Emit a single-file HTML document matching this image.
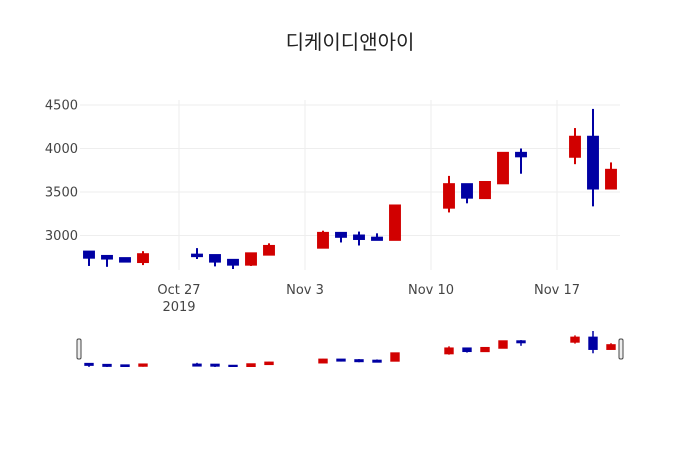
<!DOCTYPE html>
<html><head><meta charset="utf-8">
<style>
html,body{margin:0;padding:0;background:#fff;}
svg text{font-family:"DejaVu Sans","Noto Sans CJK KR",sans-serif;fill:#444;}
</style></head>
<body>
<svg id="chart" width="700" height="450" xmlns="http://www.w3.org/2000/svg">
<text x="350" y="49" text-anchor="middle" font-size="20" style="fill:#222;font-family:'Noto Sans CJK KR',sans-serif">디케이디앤아이</text>
<g id="grid"></g>
<g id="candles"></g>
<g id="xticks"></g>
<g id="yticks"></g>
<g id="slider"></g>
</svg>
<script>
const dates = ["2019-10-22","2019-10-23","2019-10-24","2019-10-25","2019-10-28","2019-10-29","2019-10-30","2019-10-31","2019-11-01","2019-11-04","2019-11-05","2019-11-06","2019-11-07","2019-11-08","2019-11-11","2019-11-12","2019-11-13","2019-11-14","2019-11-15","2019-11-18","2019-11-19","2019-11-20"];
const opens  = [2815,2765,2740,2695,2780,2775,2720,2665,2780,2860,3030,3000,2975,2950,3320,3590,3430,3600,3950,3905,4135,3540];
const highs  = [2815,2765,2745,2820,2855,2780,2730,2800,2910,3055,3035,3045,3025,3345,3685,3590,3625,3950,4000,4235,4455,3840];
const lows   = [2650,2640,2695,2660,2730,2645,2615,2650,2780,2860,2920,2885,2945,2950,3265,3370,3425,3600,3710,3820,3335,3540];
const closes = [2745,2735,2700,2785,2770,2700,2665,2795,2880,3030,2985,2960,2950,3345,3590,3435,3615,3950,3910,4135,3540,3755];
const yTicks = [3000,3500,4000,4500];
const xTickDates = ["2019-10-27","2019-11-03","2019-11-10","2019-11-17"];
const xTickLabels = ["Oct 27","Nov 3","Nov 10","Nov 17"];

const NS="http://www.w3.org/2000/svg";
const x0=Date.parse("2019-10-21T12:00:00Z"), x1=Date.parse("2019-11-20T12:00:00Z");
const L=80,R=620;
function xs(d){return L+(Date.parse(d+"T00:00:00Z")-x0)/(x1-x0)*(R-L);}
function ys(v){return 105+(4500-v)*130.5/1500;}
function ysS(v){return 331+(4455-v)*(367.6-331)/(4455-2615);}
function mk(tag,attrs,parent){const e=document.createElementNS(NS,tag);for(const k in attrs)e.setAttribute(k,attrs[k]);parent.appendChild(e);return e;}
const bw=(R-L)/30*0.55;
const grid=document.getElementById('grid');
yTicks.forEach((t,i)=>{
  const g=mk('line',{x1:L,x2:R,y1:ys(t),y2:ys(t),stroke:'#eee','stroke-width':1},grid);
  
  
  const tx=mk('text',{x:L-2,y:ys(t)+4.5,'text-anchor':'end','font-size':13},document.getElementById('yticks'));
  tx.textContent=String(t);
  
  
});
xTickDates.forEach((d,i)=>{
  const x=xs(d);
  const g=mk('line',{x1:x,x2:x,y1:100,y2:270,stroke:'#eee','stroke-width':1},grid);
  
  
  const tx=mk('text',{x:x,y:294,'text-anchor':'middle','font-size':13},document.getElementById('xticks'));
  tx.textContent=xTickLabels[i];
  
  
});
const yr=mk('text',{x:xs(xTickDates[0]),y:311,'text-anchor':'middle','font-size':13},document.getElementById('xticks'));
yr.textContent="2019";



function drawCandles(parent,yf,w,lw){
  dates.forEach((d,i)=>{
    const up=closes[i]>=opens[i];
    const col=up?'#d10000':'#0000a3';
    const x=xs(d);
    const g=mk('g',{},parent);
    
    
    mk('line',{x1:x,x2:x,y1:yf(highs[i]),y2:yf(lows[i]),stroke:col,'stroke-width':lw},g);
    const top=yf(Math.max(opens[i],closes[i])),bot=yf(Math.min(opens[i],closes[i]));
    mk('rect',{x:x-w/2,y:top,width:w,height:Math.max(bot-top,1.5),fill:col,stroke:col,'stroke-width':lw},g);
  });
}
drawCandles(document.getElementById('candles'),ys,bw,2);
const sl=document.getElementById('slider');
const cp=mk('clipPath',{id:'sc'},sl);mk('rect',{x:L,y:327,width:R-L,height:40},cp);
const sg=mk('g',{'clip-path':'url(#sc)'},sl);


drawCandles(sg,ysS,bw*0.8,1.5);
[L-2,R].forEach((x,i)=>{
  const h=mk('rect',{x:x-1,y:339,width:4,height:20,rx:1.5,fill:'#eee',stroke:'#444','stroke-width':1},sl);
  
  
});
</script>
</body></html>
